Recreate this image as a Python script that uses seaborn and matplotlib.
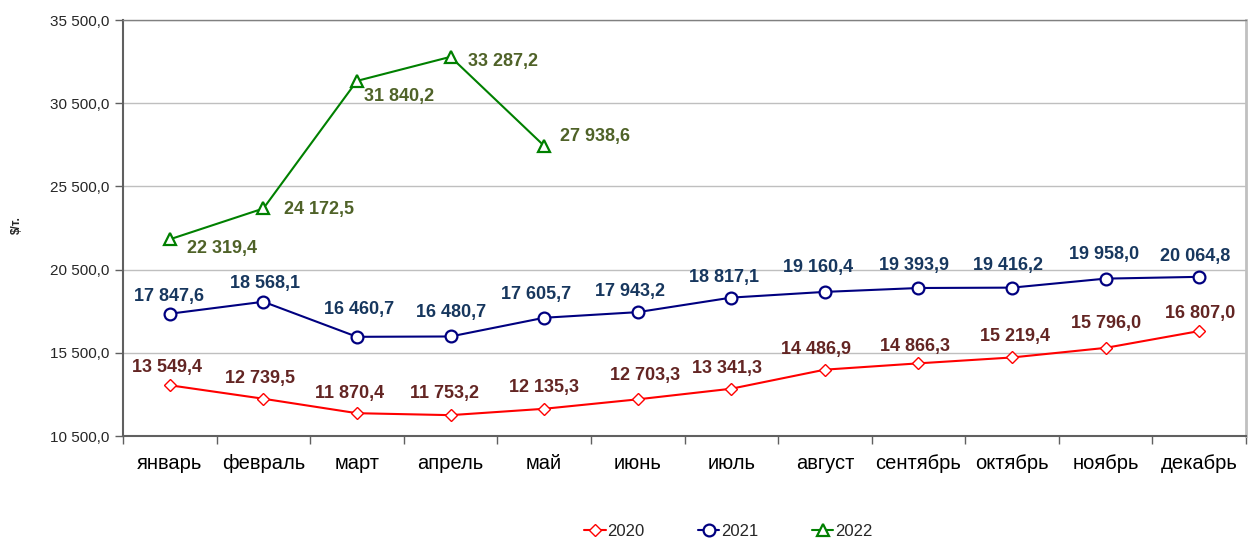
import numpy as np
import pandas as pd
import matplotlib
matplotlib.use("Agg")
import matplotlib.pyplot as plt
from matplotlib.ticker import FuncFormatter, FixedLocator
import seaborn as sns

months = ["январь", "февраль", "март", "апрель", "май", "июнь", "июль",
          "август", "сентябрь", "октябрь", "ноябрь", "декабрь"]
v2020 = [13549.4, 12739.5, 11870.4, 11753.2, 12135.3, 12703.3, 13341.3,
         14486.9, 14866.3, 15219.4, 15796.0, 16807.0]
v2021 = [17847.6, 18568.1, 16460.7, 16480.7, 17605.7, 17943.2, 18817.1,
         19160.4, 19393.9, 19416.2, 19958.0, 20064.8]
v2022 = [22319.4, 24172.5, 31840.2, 33287.2, 27938.6]
series_names = ["2020", "2021", "2022"]

# label offsets in pixels (dx, dy up-positive)
off2020 = [(-3, 18), (-3, 20), (-7, 20), (-6, 22), (0, 21), (7, 24), (-4, 20),
           (-9, 20), (-3, 17), (3, 21), (0, 24), (1, 18)]
off2021 = [(-1, 17), (2, 18), (2, 27), (1, 24), (-8, 23), (-8, 21), (-7, 20),
           (-7, 24), (-4, 23), (-4, 22), (-2, 24), (-4, 20)]
off2022 = [(17, -9), (21, -1), (7, -16), (17, -5), (16, 9)]

sns.set_theme(style="white")
plt.rcParams["font.family"] = ["Liberation Sans", "DejaVu Sans"]

fig = plt.figure(figsize=(12.49, 5.39), dpi=100)
ax = fig.add_axes([123 / 1249, 1 - 436 / 539, (1246 - 123) / 1249, (436 - 20) / 539])

def fmt(v):
    return f"{v:,.1f}".replace(",", " ").replace(".", ",")

styles = [
    dict(color="#FF0000", marker="D", ms=6.5, mew=1.0, lw=1.5, lab="#632523"),
    dict(color="#000080", marker="o", ms=8.5, mew=1.6, lw=1.5, lab="#17375E"),
    dict(color="#008000", marker="^", ms=8.5, mew=1.6, lw=1.5, lab="#4F6228"),
]
data = [v2020, v2021, v2022]
offs = [off2020, off2021, off2022]

for name, vals, st, off in zip(series_names, data, styles, offs):
    df = pd.DataFrame({"x": np.arange(len(vals)), "y": vals})
    sns.lineplot(data=df, x="x", y="y", ax=ax, color=st["color"], lw=st["lw"],
                 marker=st["marker"], markersize=st["ms"], markerfacecolor="white",
                 markeredgecolor=st["color"], markeredgewidth=st["mew"],
                 label=name, sort=False, zorder=3)
    for i, v in enumerate(vals):
        dx, dy = off[i]
        ha = "left" if name == "2022" else "center"
        ax.annotate(fmt(v), xy=(i, v), xytext=(dx, dy), textcoords="offset pixels",
                    ha=ha, va="center", fontsize=13, fontweight="bold",
                    color=st["lab"], zorder=4)

ax.set_xlim(-0.5, 11.5)
ax.set_ylim(10500, 35500)
ax.set_yticks(np.arange(10500, 35501, 5000))
ax.yaxis.set_major_formatter(FuncFormatter(lambda v, p: fmt(v)))
ax.set_xticks(np.arange(12))
ax.set_xticklabels(months, fontsize=14.5)
ax.xaxis.set_minor_locator(FixedLocator(np.arange(-0.5, 12, 1)))
ax.tick_params(axis="x", which="major", length=0, pad=13, colors="#000000")
ax.tick_params(axis="x", which="minor", length=6, width=1, color="#606060", bottom=True)
ax.tick_params(axis="y", which="major", length=6, width=1, color="#606060",
               labelsize=11, pad=4, left=True)
ax.set_xlabel("")
ax.set_ylabel("")
ax.grid(axis="y", color="#BFBFBF", lw=1)
ax.set_axisbelow(True)
for s in ["left", "bottom"]:
    ax.spines[s].set_color("#606060")
    ax.spines[s].set_linewidth(1.5)
ax.spines["top"].set_color("#808080")
ax.spines["top"].set_linewidth(1)
ax.spines["right"].set_color("#C0C0C0")
ax.spines["right"].set_linewidth(2)

fig.text(17 / 1249, 1 - 225 / 539, "$/т.", rotation=90, fontsize=8.5,
         fontweight="bold", ha="center", va="center")

handles, labels = ax.get_legend_handles_labels()
if ax.legend_:
    ax.legend_.remove()
fig.legend(handles, labels, loc="center", bbox_to_anchor=(0.583, 1 - 531 / 539),
           ncol=3, frameon=False, fontsize=12, handlelength=1.3, handletextpad=0.1,
           columnspacing=3.2)

fig.savefig("out.png", dpi=100)
